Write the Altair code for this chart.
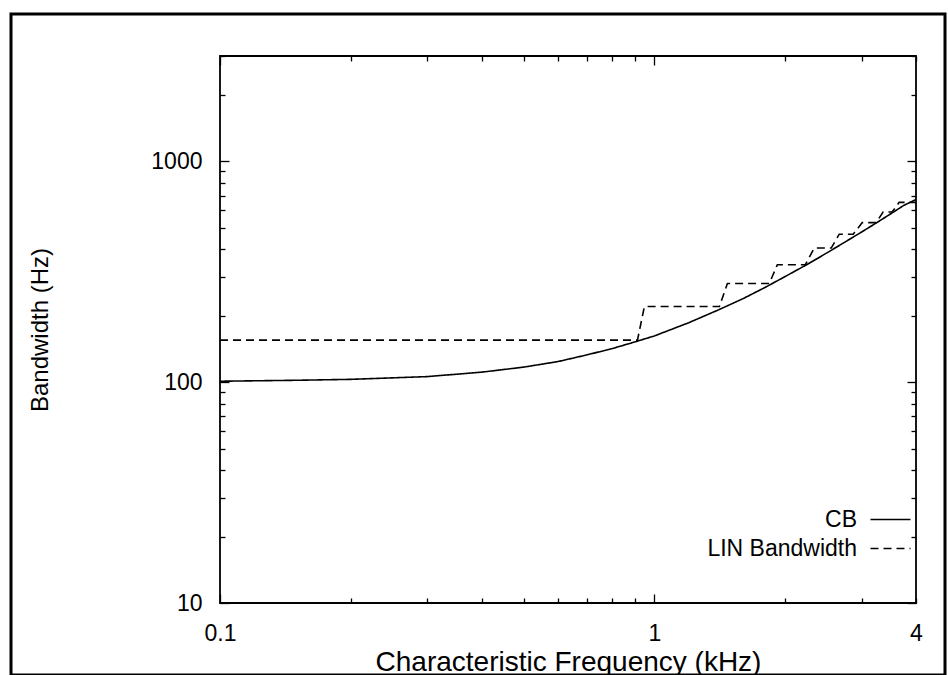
import altair as alt
import pandas as pd

# ---- data ----
cb_freq = [0.1, 0.15, 0.2, 0.3, 0.4, 0.5, 0.6, 0.7, 0.8, 0.9, 1.0, 1.2, 1.4, 1.6,
           1.8, 2.0, 2.25, 2.5, 2.75, 3.0, 3.25, 3.5, 3.75, 4.0]
cb_bw = [101, 102, 103, 106, 111, 117, 124, 133, 142, 152, 162, 186, 212, 239,
         269, 301, 342, 386, 432, 479, 528, 579, 632, 672]

lin_freq = [0.1, 0.914, 0.948, 1.411, 1.472, 1.838, 1.918, 2.224, 2.333, 2.552,
            2.663, 2.868, 3.008, 3.237, 3.36, 3.525, 3.658, 4.0]
lin_bw = [155, 155, 220, 220, 280, 280, 340, 340, 405, 405, 468, 468, 528, 528,
          590, 590, 652, 652]

series_names = ["CB", "LIN Bandwidth"]
x_tick_values = [0.1, 0.2, 0.3, 0.4, 0.5, 0.6, 0.7, 0.8, 0.9, 1, 2, 3, 4]
y_tick_values = [10, 20, 30, 40, 50, 60, 70, 80, 90, 100, 200, 300, 400, 500,
                 600, 700, 800, 900, 1000, 2000, 3000]
x_label_values = [0.1, 1, 4]
y_label_values = [10, 100, 1000]

rows = []
for i, (f, b) in enumerate(zip(cb_freq, cb_bw)):
    rows.append({"series": series_names[0], "freq": f, "bw": b, "idx": i})
for i, (f, b) in enumerate(zip(lin_freq, lin_bw)):
    rows.append({"series": series_names[1], "freq": f, "bw": b, "idx": i})
df = pd.DataFrame(rows)

W, H = 696, 547
FONT = "Liberation Sans"

xscale = alt.Scale(type="log", domain=[0.1, 4], nice=False)
yscale = alt.Scale(type="log", domain=[10, 3000], nice=False)

x_major = "datum.value == 0.1 || datum.value == 1"
y_major = "datum.value == 10 || datum.value == 100 || datum.value == 1000"


def tick_axis(orient, offset, test, values):
    # inward-pointing ticks: axis placed on the opposite edge via offset
    return alt.Axis(orient=orient, offset=offset, values=values, labels=False,
                    domain=False, grid=False, title=None, tickColor="black",
                    tickWidth=1.3,
                    tickSize={"condition": {"test": test, "value": 9}, "value": 5})


base = alt.Chart(df)

main = base.mark_line(color="black", strokeWidth=1.6).encode(
    x=alt.X("freq:Q", scale=xscale, axis=alt.Axis(
        orient="bottom", values=x_label_values, format="~g", ticks=False,
        domain=False, grid=False, labelFlush=False, labelOverlap=False,
        labelFont=FONT, labelFontSize=23, labelColor="black", labelPadding=19,
        title="Characteristic Frequency (kHz)", titleFont=FONT,
        titleFontSize=28, titleFontWeight="normal", titleColor="black",
        titleBaseline="alphabetic", titleY=67)),
    y=alt.Y("bw:Q", scale=yscale, axis=alt.Axis(
        orient="left", values=y_label_values, format="~g", ticks=False,
        domain=False, grid=False, labelFlush=False, labelOverlap=False,
        labelFont=FONT, labelFontSize=23, labelColor="black", labelPadding=18,
        title="Bandwidth (Hz)", titleFont=FONT, titleFontSize=24,
        titleFontWeight="normal", titleColor="black", titleX=-168)),
    strokeDash=alt.StrokeDash("series:N", scale=alt.Scale(
        domain=series_names, range=[[1, 0], [8, 5]]),
        legend=alt.Legend(orient="none", legendX=659, legendY=452, title=None,
                          padding=0, rowPadding=5,
                          symbolType="M-4,0H4", symbolSize=100,
                          symbolStrokeWidth=1.3, symbolStrokeColor="black",
                          symbolFillColor="transparent",
                          labelFont=FONT, labelFontSize=23, labelColor="black",
                          labelAlign="right", labelOffset={"expr": "-45"})),
    order="idx:Q",
)

ticks_a = base.mark_line(strokeOpacity=0).encode(
    x=alt.X("freq:Q", scale=xscale,
            axis=tick_axis("top", -H, x_major, x_tick_values)),
    y=alt.Y("bw:Q", scale=yscale,
            axis=tick_axis("right", -W, y_major, y_tick_values)),
    detail="series:N",
    order="idx:Q",
)
ticks_b = base.mark_line(strokeOpacity=0).encode(
    x=alt.X("freq:Q", scale=xscale,
            axis=tick_axis("bottom", -H, x_major, x_tick_values)),
    y=alt.Y("bw:Q", scale=yscale,
            axis=tick_axis("left", -W, y_major, y_tick_values)),
    detail="series:N",
    order="idx:Q",
)

frame = alt.Chart(pd.DataFrame({"k": [0]})).mark_rect(
    fill="transparent", stroke="black", strokeWidth=3).encode(
    x=alt.value(-209), x2=alt.value(725), y=alt.value(-42), y2=alt.value(619))

chart = alt.layer(main, ticks_a, ticks_b, frame).resolve_axis(
    x="independent", y="independent"
).properties(
    width=W, height=H,
    autosize=alt.AutoSizeParams(type="none"),
    padding={"left": 220, "top": 56, "right": 32, "bottom": 72},
    background="white",
).configure_view(stroke="black", strokeWidth=1.8)

chart.save("out.html", embed_options={"renderer": "svg", "actions": False})
